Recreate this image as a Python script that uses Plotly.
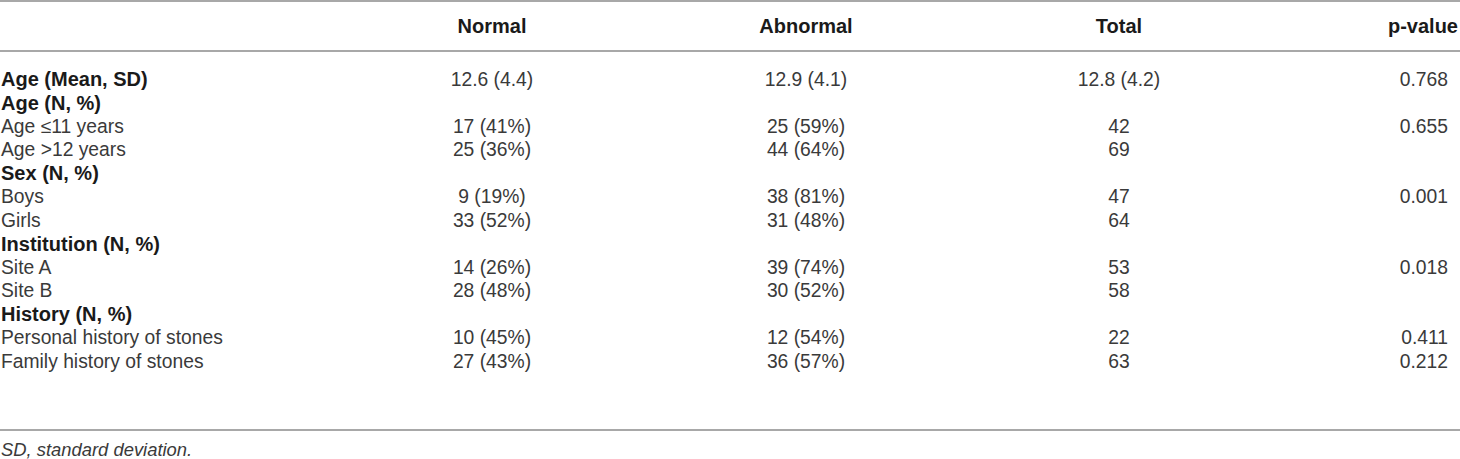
import plotly.graph_objects as go

headers = ["", "Normal", "Abnormal", "Total", "p-value"]
row_labels = [
    "Age (Mean, SD)", "Age (N, %)", "Age \u226411 years", "Age >12 years",
    "Sex (N, %)", "Boys", "Girls", "Institution (N, %)", "Site A", "Site B",
    "History (N, %)", "Personal history of stones", "Family history of stones",
]
is_group = [True, True, False, False, True, False, False, True, False, False, True, False, False]
normal = ["12.6 (4.4)", "", "17 (41%)", "25 (36%)", "", "9 (19%)", "33 (52%)", "",
          "14 (26%)", "28 (48%)", "", "10 (45%)", "27 (43%)"]
abnormal = ["12.9 (4.1)", "", "25 (59%)", "44 (64%)", "", "38 (81%)", "31 (48%)", "",
            "39 (74%)", "30 (52%)", "", "12 (54%)", "36 (57%)"]
total = ["12.8 (4.2)", "", "42", "69", "", "47", "64", "", "53", "58", "", "22", "63"]
p_values = ["0.768", "", "0.655", "", "", "0.001", "", "", "0.018", "", "", "0.411", "0.212"]
footnote = "SD, standard deviation."

W, H = 1460, 459
ROW0, ROWH = 81, 23.5
def ry(px):
    return (px - ROW0) / ROWH

rows = list(range(len(row_labels)))
FONT = "Liberation Sans, Arial, Helvetica, sans-serif"
FS = 19.3
FSB = 20
REG = "#3a3a3a"
BOLD = "#1a1a1a"
LINE = "#a8a8a8"

COL_X = {"Normal": 492, "Abnormal": 806, "Total": 1119}

fig = go.Figure()

# row labels: regular
fig.add_trace(go.Scatter(
    x=[1] * len(rows), y=rows, mode="text",
    text=["" if g else t for t, g in zip(row_labels, is_group)],
    textposition="middle right",
    textfont=dict(family=FONT, size=FS, color=REG),
    hoverinfo="skip", showlegend=False, cliponaxis=False))
# row labels: group (bold)
fig.add_trace(go.Scatter(
    x=[1] * len(rows), y=rows, mode="text",
    text=[f"<b>{t}</b>" if g else "" for t, g in zip(row_labels, is_group)],
    textposition="middle right",
    textfont=dict(family=FONT, size=FSB, color=BOLD),
    hoverinfo="skip", showlegend=False, cliponaxis=False))

for name, vals in [("Normal", normal), ("Abnormal", abnormal), ("Total", total)]:
    fig.add_trace(go.Scatter(
        x=[COL_X[name]] * len(rows), y=rows, mode="text", text=vals,
        textposition="middle center",
        textfont=dict(family=FONT, size=FS, color=REG),
        hoverinfo="skip", showlegend=False, cliponaxis=False))

fig.add_trace(go.Scatter(
    x=[1448] * len(rows), y=rows, mode="text", text=p_values,
    textposition="middle left",
    textfont=dict(family=FONT, size=FS, color=REG),
    hoverinfo="skip", showlegend=False, cliponaxis=False))

# headers
hy = ry(28)
fig.add_trace(go.Scatter(
    x=[COL_X["Normal"], COL_X["Abnormal"], COL_X["Total"]], y=[hy] * 3, mode="text",
    text=[f"<b>{h}</b>" for h in headers[1:4]], textposition="middle center",
    textfont=dict(family=FONT, size=FSB, color=BOLD),
    hoverinfo="skip", showlegend=False, cliponaxis=False))
fig.add_trace(go.Scatter(
    x=[1458], y=[hy], mode="text", text=[f"<b>{headers[4]}</b>"],
    textposition="middle left",
    textfont=dict(family=FONT, size=FSB, color=BOLD),
    hoverinfo="skip", showlegend=False, cliponaxis=False))

# footnote
fig.add_trace(go.Scatter(
    x=[1], y=[ry(451)], mode="text", text=[f"<i>{footnote}</i>"],
    textposition="middle right",
    textfont=dict(family=FONT, size=18.4, color=REG),
    hoverinfo="skip", showlegend=False, cliponaxis=False))

for py in [1, 51, 430]:
    fig.add_shape(type="line", xref="x", yref="y", x0=0, x1=W, y0=ry(py), y1=ry(py),
                  line=dict(color=LINE, width=2))

fig.update_layout(
    width=W, height=H, margin=dict(l=0, r=0, t=0, b=0),
    paper_bgcolor="white", plot_bgcolor="white",
    xaxis=dict(range=[0, W], visible=False, fixedrange=True),
    yaxis=dict(range=[ry(H), ry(0)], visible=False, fixedrange=True),
)

fig.write_html("out.html", config={"displayModeBar": False},
               post_script="document.body.style.margin='0';document.body.style.overflow='hidden';")
